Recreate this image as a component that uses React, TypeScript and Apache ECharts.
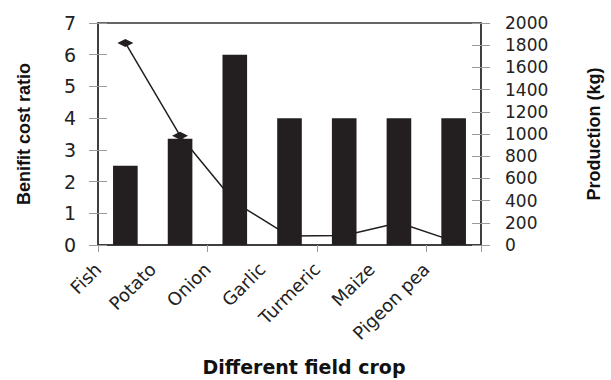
import React, { useEffect, useRef } from "react";
import * as echarts from "echarts";

// Crops along the category axis
const categories = ["Fish", "Potato", "Onion", "Garlic", "Turmeric", "Maize", "Pigeon pea"];
// Bars: benefit cost ratio (left axis)
const benefitCostRatio = [2.5, 3.35, 6, 4, 4, 4, 4];
// Line: production in kg (right axis)
const productionKg = [1820, 985, 385, 80, 85, 200, 35];

const FONT = "DejaVu Sans";
const INK = "#231f20";
const TICK = "#9a9a9a";

export default function App() {
  const ref = useRef<HTMLDivElement>(null);

  useEffect(() => {
    if (!ref.current) return;
    const chart = echarts.init(ref.current, null, { renderer: "svg" });

    const leftTicksInside = {
      type: "value",
      min: 0,
      max: 7,
      interval: 1,
      position: "left",
      axisLine: { show: false },
      axisTick: { show: true, inside: true, length: 9, lineStyle: { color: TICK, width: 1 } },
      axisLabel: { show: false },
      splitLine: { show: false },
    };
    const rightTicksInside = {
      type: "value",
      min: 0,
      max: 2000,
      interval: 200,
      position: "right",
      axisLine: { show: false },
      axisTick: { show: true, inside: true, length: 9, lineStyle: { color: TICK, width: 1 } },
      axisLabel: { show: false },
      splitLine: { show: false },
    };

    chart.setOption({
      animation: false,
      backgroundColor: "#ffffff",
      grid: {
        left: 98,
        right: 122,
        top: 23,
        bottom: 135,
        show: true,
        borderColor: "#333",
        borderWidth: 1.5,
        backgroundColor: "transparent",
      },
      xAxis: [
        {
          type: "category",
          data: categories,
          position: "bottom",
          axisLine: { show: true, lineStyle: { color: "#333", width: 1.5 } },
          axisTick: { show: true, length: 7, lineStyle: { color: TICK } },
          axisLabel: { show: false },
          splitLine: { show: false },
        },
        {
          type: "category",
          data: [...categories, ""],
          boundaryGap: false,
          position: "bottom",
          axisLine: { show: false },
          axisTick: { show: false },
          axisLabel: {
            interval: 0,
            rotate: 45,
            margin: 21,
            fontFamily: FONT,
            fontSize: 18,
            color: "#222",
          },
          splitLine: { show: false },
        },
      ],
      yAxis: [
        {
          type: "value",
          min: 0,
          max: 7,
          interval: 1,
          position: "left",
          axisLine: { show: true, lineStyle: { color: "#333", width: 1.5 } },
          axisTick: { show: true, length: 9, lineStyle: { color: TICK, width: 1 } },
          axisLabel: { margin: 22, fontFamily: FONT, fontSize: 19, color: "#222" },
          splitLine: { show: false },
          name: "Benifit cost ratio",
          nameLocation: "middle",
          nameRotate: 90,
          nameGap: 65,
          nameTextStyle: { fontFamily: "Liberation Sans", fontWeight: "bold", fontSize: 18, color: "#111" },
        },
        {
          type: "value",
          min: 0,
          max: 2000,
          interval: 200,
          position: "right",
          axisLine: { show: true, lineStyle: { color: "#333", width: 1.5 } },
          axisTick: { show: true, length: 9, lineStyle: { color: TICK, width: 1 } },
          axisLabel: {
            margin: 24,
            fontFamily: FONT,
            fontSize: 17,
            color: "#222",
            formatter: (v: number) => String(v),
          },
          splitLine: { show: false },
          name: "Production (kg)",
          nameLocation: "middle",
          nameRotate: 90,
          nameGap: 104,
          nameTextStyle: { fontFamily: "Liberation Sans", fontWeight: "bold", fontSize: 18, color: "#111" },
        },
        leftTicksInside,
        rightTicksInside,
      ],
      graphic: [
        {
          type: "text",
          x: 304,
          y: 367,
          style: {
            text: "Different field crop",
            fontFamily: FONT,
            fontWeight: "bold",
            fontSize: 19,
            fill: "#111",
            textAlign: "center",
            textVerticalAlign: "middle",
          },
        },
      ],
      series: [
        {
          type: "line",
          xAxisIndex: 0,
          yAxisIndex: 1,
          data: productionKg,
          symbol: "diamond",
          symbolSize: [16, 8],
          showAllSymbol: true,
          lineStyle: { color: INK, width: 1.5 },
          itemStyle: { color: INK },
        },
        {
          type: "bar",
          xAxisIndex: 0,
          yAxisIndex: 0,
          data: benefitCostRatio,
          barWidth: "45%",
          itemStyle: { color: INK },
        },
      ],
    });

    return () => chart.dispose();
  }, []);

  return (
    <div
      ref={ref}
      style={{ position: "fixed", left: 0, top: 0, width: 611, height: 380, background: "#fff" }}
    />
  );
}
